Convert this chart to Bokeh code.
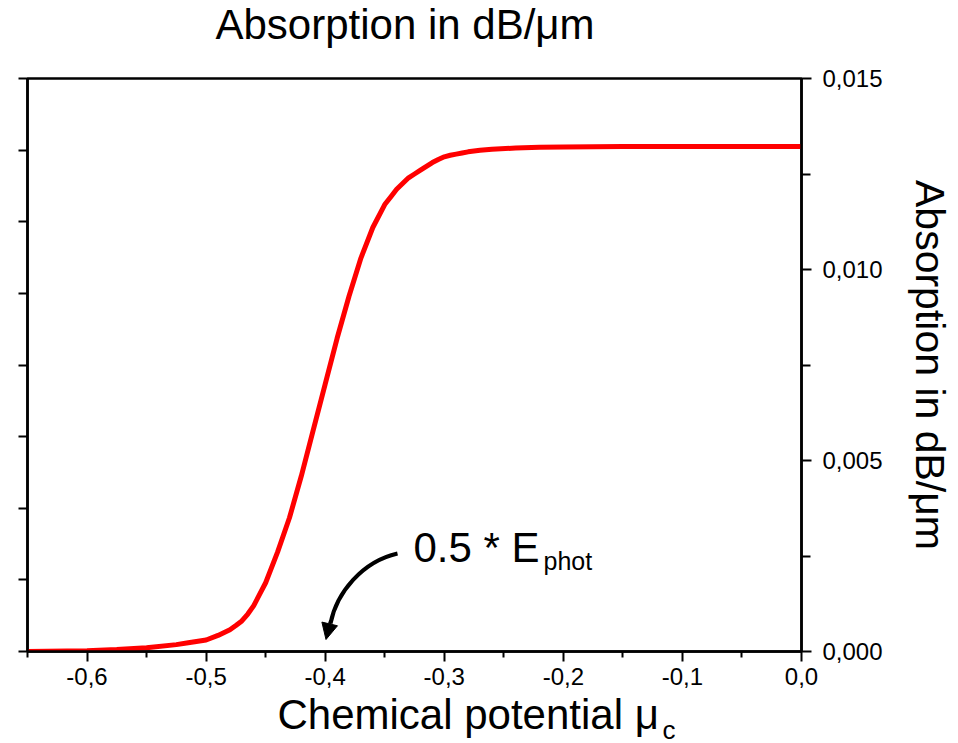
import math
from bokeh.plotting import figure
from bokeh.layouts import column
from bokeh.models import Range1d, LinearAxis, FixedTicker, Label, Arrow, NormalHead
from bokeh.embed import file_html
from bokeh.resources import INLINE

# ---------------- data ----------------
mu = [-0.65, -0.60, -0.575, -0.55, -0.525, -0.515, -0.50, -0.49, -0.48, -0.475, -0.47,
      -0.465, -0.46, -0.455, -0.45, -0.44, -0.43, -0.42, -0.41, -0.40, -0.39, -0.38,
      -0.37, -0.36, -0.35, -0.345, -0.34, -0.335, -0.33, -0.325, -0.32, -0.315, -0.31,
      -0.305, -0.30, -0.295, -0.29, -0.285, -0.28, -0.27, -0.26, -0.24, -0.22, -0.20,
      -0.15, -0.10, -0.05, 0.00]
absorption = [0.0000, 0.00002, 0.00005, 0.0001, 0.00018, 0.00023, 0.0003, 0.00042, 0.00057, 0.00068, 0.0008,
              0.00098, 0.0012, 0.0015, 0.0018, 0.0026, 0.0035, 0.0046, 0.0058, 0.0070, 0.0082, 0.0093,
              0.0103, 0.0111, 0.0117, 0.0119, 0.0121, 0.01225, 0.0124, 0.0125, 0.0126, 0.0127, 0.0128,
              0.01288, 0.01295, 0.01299, 0.01302, 0.01305, 0.01308, 0.01312, 0.01315, 0.01318, 0.0132, 0.01321,
              0.01322, 0.01322, 0.01322, 0.01322]

x_ticks = [-0.6, -0.5, -0.4, -0.3, -0.2, -0.1, 0.0]
x_tick_labels = ["-0,6", "-0,5", "-0,4", "-0,3", "-0,2", "-0,1", "0,0"]
x_minor = [-0.65, -0.55, -0.45, -0.35, -0.25, -0.15, -0.05]
y_ticks = [0.0, 0.005, 0.01, 0.015]
y_tick_labels = ["0,000", "0,005", "0,010", "0,015"]
y_minor = [0.0025, 0.0075, 0.0125]
left_ticks = [0, 1, 2, 3, 4, 5, 6, 7, 8]

title_text = "Absorption in dB/\u03bcm"
xlabel_text = "Chemical potential \u03bc"
xlabel_sub = "c"
ylabel_text = "Absorption in dB/\u03bcm"
note_text = "0.5 * E"
note_sub = "phot"

FONT = "Liberation Sans"

# ---------------- layout (page pixels) ----------------
W, H = 958, 743
TOP_H = 50          # strip holding the title
BOT_H = 48          # strip holding the x-axis title
MAIN_H = H - TOP_H - BOT_H
FL, FR, FT, FB = 27, 801, 78, 651   # plot frame on the page
X0, X1 = -0.65, 0.0
Y0, Y1 = 0.0, 0.015
BASE_SHIFT = 0.35   # anchor correction (in em) so that text baselines land where wanted


def dx(px):
    return X0 + (px - FL) / (FR - FL) * (X1 - X0)


def dy(py):
    return Y0 + (FB - py) / (FB - FT) * (Y1 - Y0)


def base(py, size):
    return py - BASE_SHIFT * size


def strip(height, top):
    # frames of a column are aligned with the main plot's frame (FL..FR)
    f = figure(width=W, height=height, output_backend="svg", toolbar_location=None,
               title=None,
               x_range=Range1d(FL, FR), y_range=Range1d(top + height, top),
               x_axis_location=None, y_axis_location=None,
               min_border=0, min_border_left=FL, min_border_right=W - FR,
               min_border_top=0, min_border_bottom=0)
    f.outline_line_color = None
    f.background_fill_color = "white"
    f.border_fill_color = "white"
    for g in f.grid:
        g.visible = False
    return f


# ---------------- title strip ----------------
top = strip(TOP_H, 0)
top.add_layout(Label(x=215, y=base(39, 42), text=title_text, text_font=FONT, text_font_size="42px",
                     text_align="left", text_baseline="alphabetic", text_color="black"))

# ---------------- main plot ----------------
p = figure(width=W, height=MAIN_H, output_backend="svg", toolbar_location=None,
           title=None,
           x_range=Range1d(X0, X1), y_range=Range1d(Y0, Y1),
           y_axis_location="right",
           min_border_left=FL, min_border_right=W - FR,
           min_border_top=FT - TOP_H, min_border_bottom=(TOP_H + MAIN_H) - FB)
p.background_fill_color = "white"
p.border_fill_color = "white"
p.outline_line_color = "black"
p.outline_line_width = 2.5
p.xgrid.visible = False
p.ygrid.visible = False

# bottom axis
xa = p.xaxis[0]
xa.ticker = FixedTicker(ticks=x_ticks, minor_ticks=x_minor)
xa.major_label_overrides = {t: l for t, l in zip(x_ticks, x_tick_labels)}
xa.axis_line_width = 2.5
xa.major_tick_line_width = 2
xa.minor_tick_line_width = 2
xa.major_tick_out = 10
xa.major_tick_in = 0
xa.minor_tick_out = 6
xa.minor_tick_in = 0
xa.major_label_standoff = 6
xa.major_label_text_font = FONT
xa.major_label_text_font_size = "24px"
xa.major_label_text_color = "black"

# right axis
ya = p.yaxis[0]
ya.ticker = FixedTicker(ticks=y_ticks, minor_ticks=y_minor)
ya.major_label_overrides = {t: l for t, l in zip(y_ticks, y_tick_labels)}
ya.axis_line_width = 2.5
ya.major_tick_line_width = 2
ya.minor_tick_line_width = 2
ya.major_tick_out = 10
ya.major_tick_in = 0
ya.minor_tick_out = 9
ya.minor_tick_in = 0
ya.major_label_standoff = 11
ya.major_label_text_font = FONT
ya.major_label_text_font_size = "24px"
ya.major_label_text_color = "black"
ya.axis_label = ylabel_text
ya.axis_label_text_font = FONT
ya.axis_label_text_font_size = "41px"
ya.axis_label_text_font_style = "normal"
ya.axis_label_text_color = "black"
ya.axis_label_standoff = 21

# left axis (ticks only, no labels)
p.extra_y_ranges = {"left": Range1d(left_ticks[0], left_ticks[-1])}
la = LinearAxis(y_range_name="left", ticker=FixedTicker(ticks=left_ticks, minor_ticks=[]))
la.axis_line_width = 2.5
la.major_tick_line_width = 2
la.major_tick_out = 9
la.major_tick_in = 0
la.minor_tick_line_color = None
la.major_label_text_color = None
la.major_label_text_font_size = "1px"
la.major_label_standoff = 0
p.add_layout(la, "left")

# curve
p.line(mu, absorption, line_color="#ff0000", line_width=5)

# curved arrow
p.bezier(x0=[dx(397)], y0=[dy(553)], x1=[dx(330)], y1=[dy(623)],
         cx0=[dx(362)], cy0=[dy(561)], cx1=[dx(336)], cy1=[dy(592)],
         line_color="black", line_width=4)
p.add_layout(Arrow(end=NormalHead(size=16, fill_color="black", line_color="black", line_width=1),
                   x_start=dx(330), y_start=dy(620), x_end=dx(325.5), y_end=dy(639),
                   line_color="black", line_width=3))

# annotation inside plot
p.add_layout(Label(x=dx(413), y=dy(base(562, 42)), text=note_text, text_font=FONT,
                   text_font_size="42px", text_align="left", text_baseline="alphabetic",
                   text_color="black"))
p.add_layout(Label(x=dx(543), y=dy(base(569, 25)), text=note_sub, text_font=FONT,
                   text_font_size="25px", text_align="left", text_baseline="alphabetic",
                   text_color="black"))

# ---------------- x-axis title strip ----------------
bot = strip(BOT_H, TOP_H + MAIN_H)
bot.add_layout(Label(x=277, y=base(729, 42), text=xlabel_text, text_font=FONT, text_font_size="42px",
                     text_align="left", text_baseline="alphabetic", text_color="black"))
bot.add_layout(Label(x=662, y=base(739, 26), text=xlabel_sub, text_font=FONT, text_font_size="26px",
                     text_align="left", text_baseline="alphabetic", text_color="black"))

layout = column(top, p, bot, spacing=0)
open("out.html", "w").write(file_html(layout, INLINE))
